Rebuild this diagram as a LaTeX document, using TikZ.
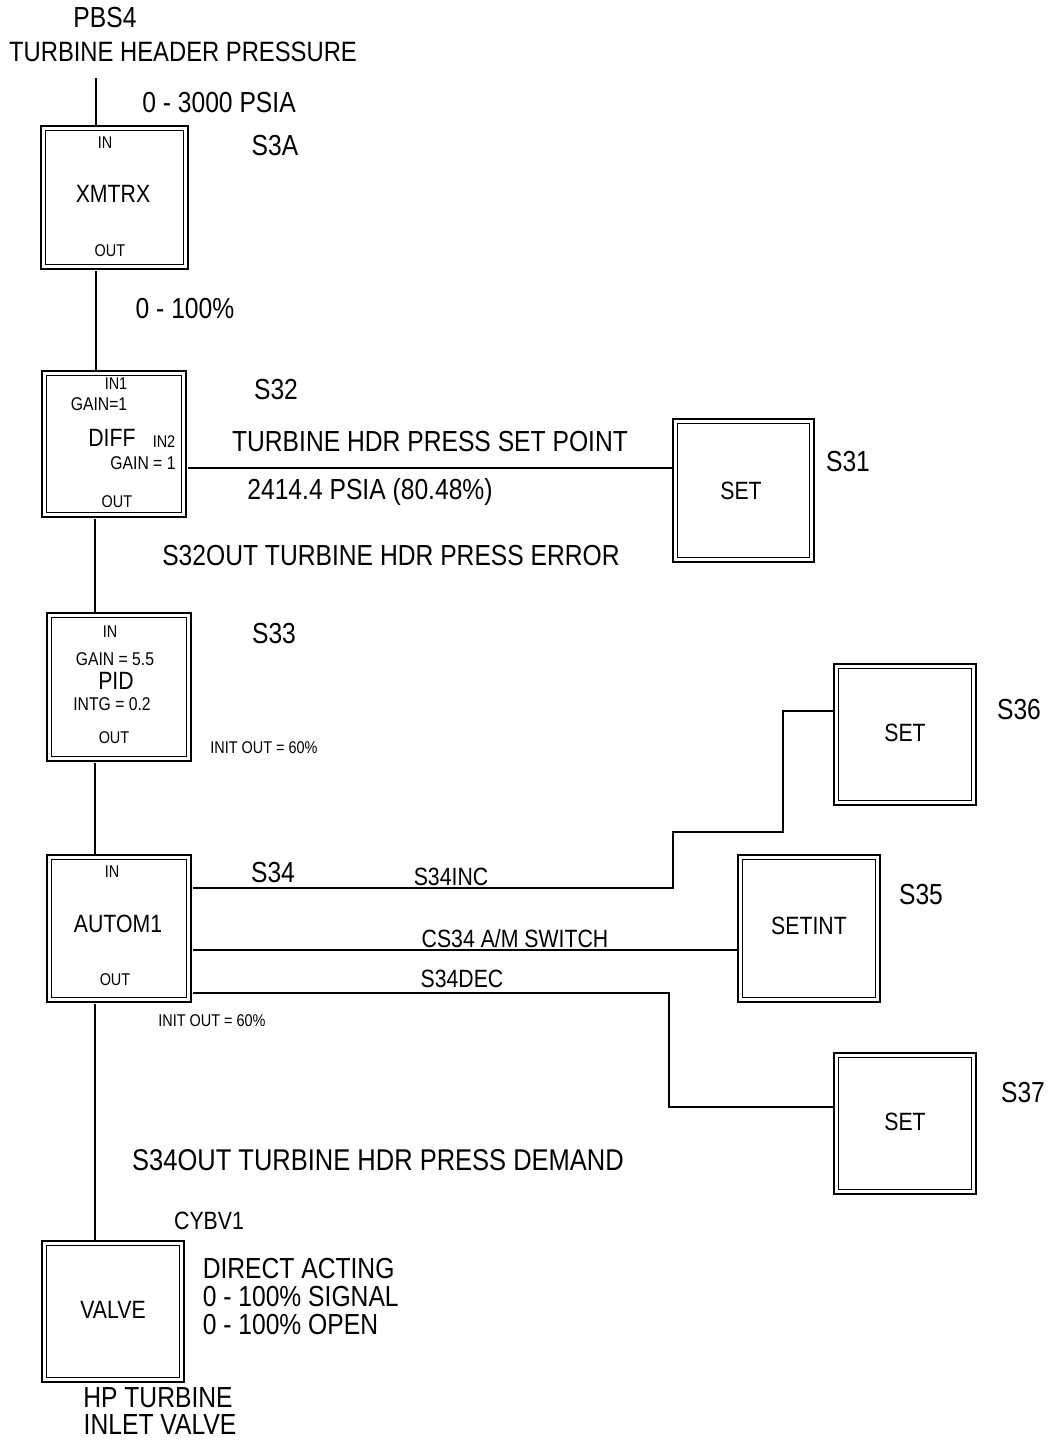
\documentclass[tikz,border=0pt]{standalone}
\usepackage{fontspec}
\newfontfamily\cad[FakeStretch=0.85]{Liberation Sans}
\begin{document}
\begin{tikzpicture}[x=1pt,y=-1pt,
  line width=1.5pt,
  dbox/.style={draw, double, double distance=3pt, line width=1.4pt, fill=white,
     outer sep=3.6pt, inner sep=0pt},
  wire/.style={line width=1.4pt},
  big/.style={font=\cad\fontsize{29}{30}\selectfont, inner sep=0pt},
  mid/.style={font=\cad\fontsize{25}{26}\selectfont, inner sep=0pt},
  sml/.style={font=\cad\fontsize{18.5}{19}\selectfont, inner sep=0pt},
  tny/.style={font=\cad\fontsize{17}{18}\selectfont, inner sep=0pt},
  ann/.style={font=\cad\fontsize{17}{18}\selectfont, inner sep=0pt}
]
\useasboundingbox (0,0) rectangle (1048,1441);

% boxes (outer size minus 6.2 for double border)
\node[dbox, minimum width=142.8pt, minimum height=138.8pt] (xmtrx) at (114.5,197.5) {};
\node[dbox, minimum width=139.8pt, minimum height=141.8pt] (diff) at (114,444) {};
\node[dbox, minimum width=139.8pt, minimum height=143.8pt] (pid) at (119,687) {};
\node[dbox, minimum width=139.8pt, minimum height=142.8pt] (autom) at (119,928.5) {};
\node[dbox, minimum width=137.8pt, minimum height=136.8pt] (valve) at (113,1311.5) {};
\node[dbox, minimum width=136.8pt, minimum height=138.8pt] (s31) at (743.5,490.5) {};
\node[dbox, minimum width=137.8pt, minimum height=136.8pt] (s36) at (905,734.5) {};
\node[dbox, minimum width=137.8pt, minimum height=142.8pt] (s35) at (809,928.5) {};
\node[dbox, minimum width=137.8pt, minimum height=136.8pt] (s37) at (905,1123.5) {};

% helper coordinates
\coordinate (tx) at (96,0);
\coordinate (bx) at (95,0);
\coordinate (in) at (96,78);
\coordinate (h1) at (0,468);
\coordinate (h2) at (0,888);
\coordinate (h3) at (0,950);
\coordinate (h4) at (0,993);
\coordinate (k1) at (673,832);
\coordinate (k2) at (783,711);
\coordinate (k3) at (669,1107);

% connectors
\draw[wire] (in) -- (xmtrx.north -| tx);
\draw[wire] (xmtrx.south -| tx) -- (diff.north -| tx);
\draw[wire] (diff.south -| bx) -- (pid.north -| bx);
\draw[wire] (pid.south -| bx) -- (autom.north -| bx);
\draw[wire] (autom.south -| bx) -- (valve.north -| bx);
\draw[wire] (diff.east |- h1) -- (s31.west |- h1);
\draw[wire] (autom.east |- h2) -| (k1) -- (k2 |- k1) -- (k2) -- (s36.west |- k2);
\draw[wire] (autom.east |- h3) -- (s35.west |- h3);
\draw[wire] (autom.east |- h4) -| (k3) -- (s37.west |- k3);

% texts inside boxes
\node[tny] (t1) at (105,143) {IN};
\node[mid] (t2) at (113,194) {XMTRX};
\node[tny] (t3) at (110,251) {OUT};

\node[tny] (t4) at (116,384) {IN1};
\node[sml] (t5) at (99,404) {GAIN=1};
\node[mid] (t6) at (112,438) {DIFF};
\node[tny] (t7) at (164,442) {IN2};
\node[sml] (t8) at (143,463) {GAIN = 1};
\node[tny] (t9) at (117,502) {OUT};

\node[tny] (t10) at (110,632) {IN};
\node[sml] (t11) at (115,659) {GAIN = 5.5};
\node[mid] (t12) at (116,681) {PID};
\node[sml] (t13) at (112,704) {INTG = 0.2};
\node[tny] (t14) at (114,738) {OUT};

\node[tny] (t15) at (112,872) {IN};
\node[mid] (t16) at (118,924) {AUTOM1};
\node[tny] (t17) at (115,980) {OUT};

\node[mid] (t18) at (113,1310) {VALVE};
\node[mid] (t19) at (741,491) {SET};
\node[mid] (t20) at (905,733) {SET};
\node[mid] (t21) at (809,926) {SETINT};
\node[mid] (t22) at (905,1122) {SET};

% outside labels
\node[big] (l1) at (105,18) {PBS4};
\node[big, font=\cad\fontsize{28}{29}\selectfont] (l2) at (183,52) {TURBINE HEADER PRESSURE};
\node[big] (l3) at (219,103) {0 - 3000 PSIA};
\node[big] (l4) at (275,146) {S3A};
\node[big] (l5) at (185,309) {0 - 100\%};
\node[big] (l6) at (276,390) {S32};
\node[big] (l7) at (430,442) {TURBINE HDR PRESS SET POINT};
\node[big] (l8) at (370,492) {2414.4 PSIA (80.48\%)};
\node[big] (l9) at (848,462) {S31};
\node[big] (l10) at (391,556) {S32OUT TURBINE HDR PRESS ERROR};
\node[big] (l11) at (274,634) {S33};
\node[ann] (l12) at (264,748) {INIT OUT = 60\%};
\node[big] (l13) at (1019,710) {S36};
\node[big] (l14) at (273,873) {S34};
\node[mid] (l15) at (451,877) {S34INC};
\node[big] (l16) at (921,895) {S35};
\node[mid] (l17) at (515,939) {CS34 A/M SWITCH};
\node[mid] (l18) at (462,979) {S34DEC};
\node[ann] (l19) at (212,1021) {INIT OUT = 60\%};
\node[big] (l20) at (1023,1093) {S37};
\node[big, font=\cad\fontsize{30}{31}\selectfont] (l21) at (378,1160) {S34OUT TURBINE HDR PRESS DEMAND};
\node[mid] (l22) at (209,1221) {CYBV1};
\node[big, anchor=west] (l23) at (202,1268) {DIRECT ACTING};
\node[big, anchor=west] (l24) at (202,1296) {0 - 100\% SIGNAL};
\node[big, anchor=west] (l25) at (202,1324) {0 - 100\% OPEN};
\node[big] (l26) at (158,1398) {HP TURBINE};
\node[big] (l27) at (160,1425) {INLET VALVE};
\end{tikzpicture}
\end{document}
